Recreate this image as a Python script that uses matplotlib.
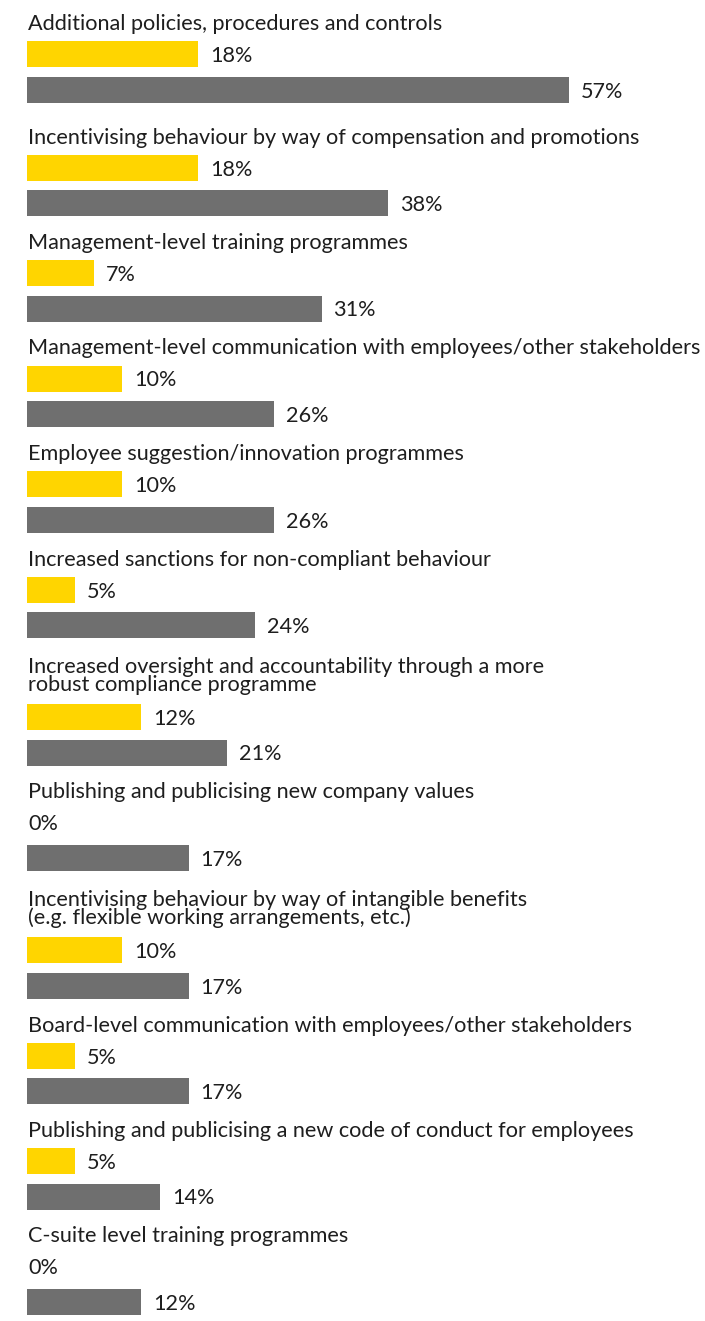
import matplotlib
matplotlib.use("Agg")
import matplotlib.pyplot as plt

# data
labels = [
    "Additional policies, procedures and controls",
    "Incentivising behaviour by way of compensation and promotions",
    "Management-level training programmes",
    "Management-level communication with employees/other stakeholders",
    "Employee suggestion/innovation programmes",
    "Increased sanctions for non-compliant behaviour",
    "Increased oversight and accountability through a more\nrobust compliance programme",
    "Publishing and publicising new company values",
    "Incentivising behaviour by way of intangible benefits\n(e.g. flexible working arrangements, etc.)",
    "Board-level communication with employees/other stakeholders",
    "Publishing and publicising a new code of conduct for employees",
    "C-suite level training programmes",
]
yellow_vals = [18, 18, 7, 10, 10, 5, 12, 0, 10, 5, 5, 0]
grey_vals = [57, 38, 31, 26, 26, 24, 21, 17, 17, 17, 14, 12]

YELLOW = "#FFD500"
GREY = "#6F6F6F"
TXT = "#1e1e1e"
FONT = "Lato"
FS = 15.6

W, H = 705, 1321
fig = plt.figure(figsize=(W / 100, H / 100), dpi=100)
ax = fig.add_axes([0, 0, 1, 1])
px = 9.5  # pixels per percentage point
x0 = 27
ax.set_xlim(-x0 / px, (W - x0) / px)
ax.set_ylim(H, 0)
ax.axis("off")

# layout (pixels from top)
y = 22
ty, y1, y2 = [], [], []
for i, lab in enumerate(labels):
    n = lab.count("\n") + 1
    ty.append(y)
    b1 = y + 32 + 22 * (n - 1)
    b2 = b1 + 35.5
    y1.append(b1)
    y2.append(b2)
    y = b2 + (46 if i == 0 else 38)

ax.barh(y1, yellow_vals, height=26, left=0, color=YELLOW)
ax.barh(y2, grey_vals, height=26, left=0, color=GREY)

for i, lab in enumerate(labels):
    n = lab.count("\n") + 1
    ax.text(0.1, ty[i] + 2 + 11 * (n - 1), lab, fontsize=FS, family=FONT, color=TXT,
            va="center", ha="left", linespacing=0.85)
    for v, yy in ((yellow_vals[i], y1[i]), (grey_vals[i], y2[i])):
        xt = v + 12 / px if v > 0 else 0.1
        ax.text(xt, yy + 2, f"{v}%", fontsize=FS, family=FONT, color=TXT,
                va="center", ha="left")

fig.savefig("out.png", dpi=100)
